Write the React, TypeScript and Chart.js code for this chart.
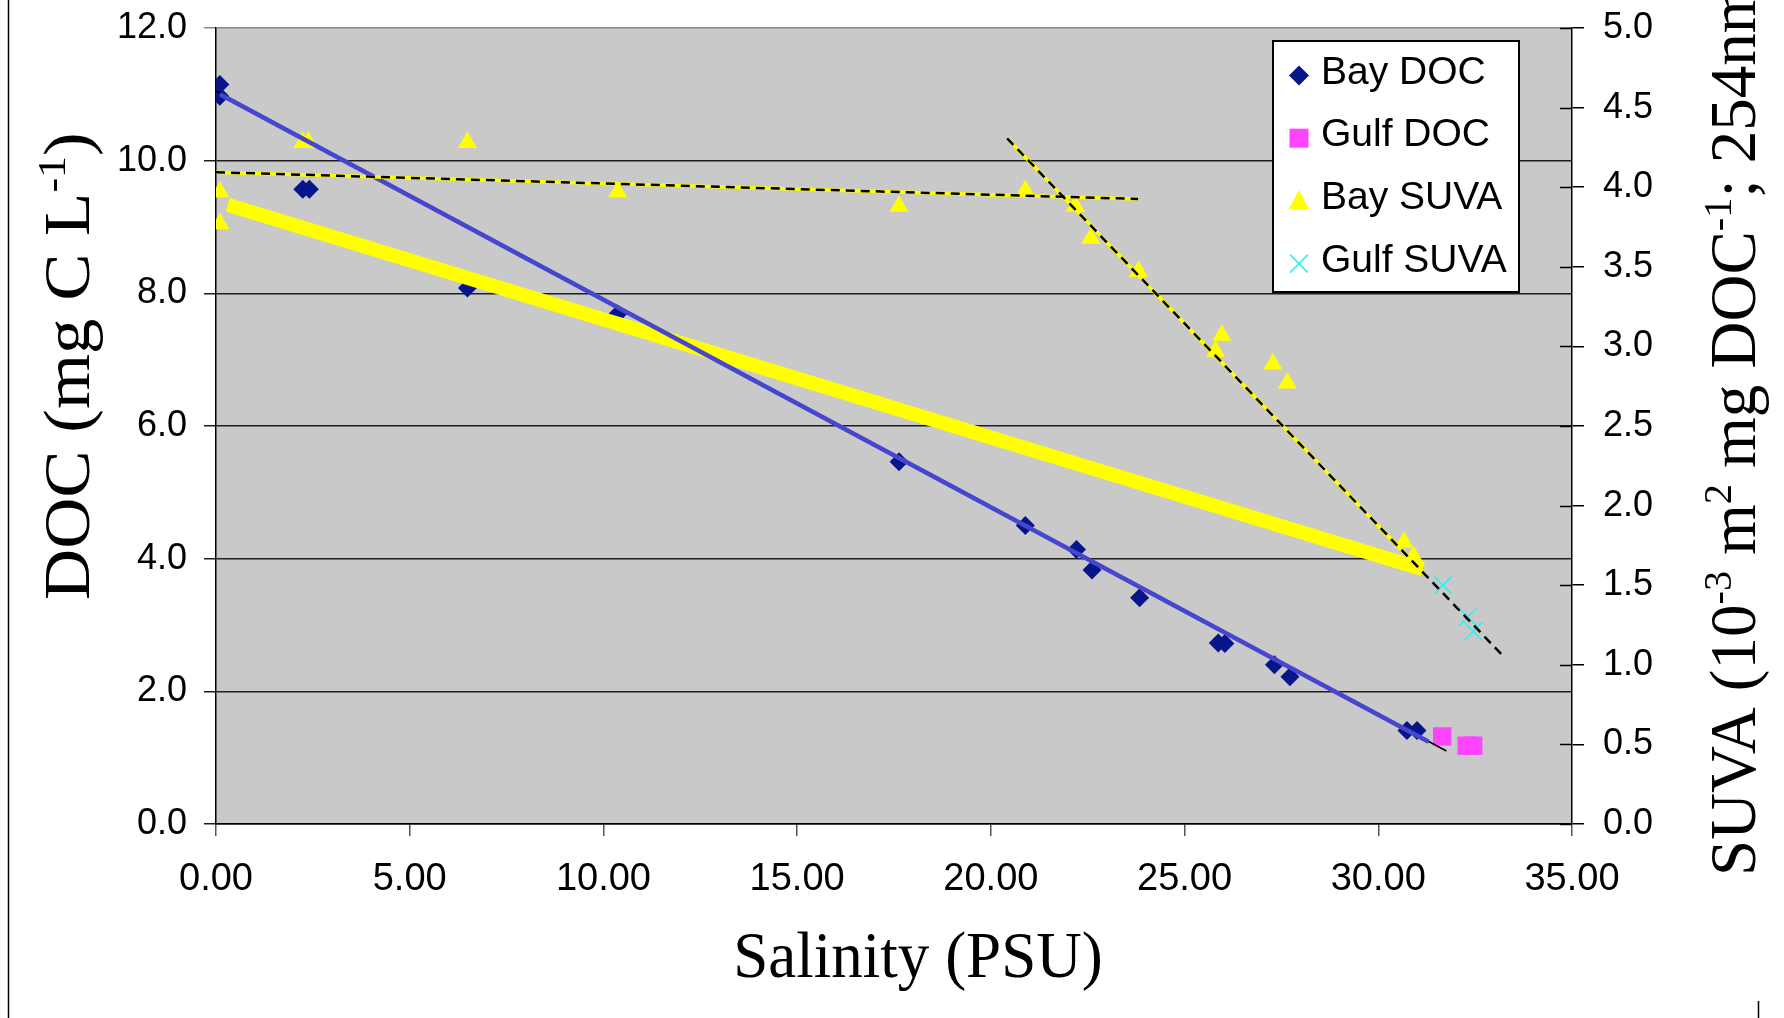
import React, { useEffect, useRef } from 'react';
import { Chart, registerables } from 'chart.js';

Chart.register(...registerables);

// ---- data -------------------------------------------------------------
const bayDocSalinity = [0.1, 0.1, 2.24, 2.41, 6.49, 10.37, 17.63, 20.89, 22.21, 22.61, 23.84, 25.87, 26.04, 27.32, 27.72, 30.74, 31.0];
const bayDocValues = [11.15, 10.97, 9.57, 9.57, 8.08, 7.69, 5.46, 4.5, 4.14, 3.83, 3.41, 2.73, 2.72, 2.4, 2.22, 1.41, 1.41];

const gulfDocSalinity = [31.65, 32.28, 32.45];
const gulfDocValues = [1.32, 1.18, 1.18];

const baySuvaSalinity = [0.1, 0.1, 2.24, 2.38, 6.49, 10.37, 17.63, 20.89, 22.18, 22.58, 23.81, 25.8, 25.96, 27.28, 27.65, 30.66, 30.91];
const baySuvaValues = [3.97, 3.77, 4.28, 4.28, 4.28, 3.97, 3.88, 3.98, 3.88, 3.68, 3.47, 2.97, 3.07, 2.89, 2.77, 1.77, 1.68];

const gulfSuvaSalinity = [31.67, 32.31, 32.45];
const gulfSuvaValues = [1.5, 1.3, 1.21];

// fitted lines (end points)
const docFitX = [0.1, 31.3];
const docFitY = [11.0, 1.24];
const docFitAltX = [0, 31.76];
const docFitAltY = [11.05, 1.1];
const suvaFitAllX = [0.3, 31.15];
const suvaFitAllY = [3.89, 1.6];
const suvaFitLowX = [0, 23.8];
const suvaFitLowY = [4.094, 3.926];
const suvaFitHighX = [20.42, 31.2];
const suvaFitHighY = [4.307, 1.569];
const suvaFitExtX = [20.42, 33.2];
const suvaFitExtY = [4.307, 1.061];

// axes
const salinityRange = [0, 35, 5];
const docRange = [0, 12, 2];
const suvaRange = [0, 5, 0.5];

const SANS = '"Liberation Sans", Arial, sans-serif';
const SERIF = '"Liberation Serif", "Times New Roman", serif';

type Seg = { text: string; sup?: boolean };

const xTitle: Seg[] = [{ text: 'Salinity (PSU)' }];
const leftTitle: Seg[] = [{ text: 'DOC (mg C L' }, { text: '-1', sup: true }, { text: ')' }];
const rightTitle: Seg[] = [
  { text: 'SUVA (10' },
  { text: '-3', sup: true },
  { text: ' m' },
  { text: '2', sup: true },
  { text: ' mg DOC' },
  { text: '-1', sup: true },
  { text: '; 254nm' },
  { text: '-1', sup: true },
  { text: ')' },
];

const pts = (xs: number[], ys: number[]) => xs.map((x, i) => ({ x, y: ys[i] }));

function richWidth(ctx: CanvasRenderingContext2D, segs: Seg[], size: number) {
  let w = 0;
  for (const s of segs) {
    ctx.font = `${s.sup ? size * 0.62 : size}px ${SERIF}`;
    w += ctx.measureText(s.text).width;
  }
  return w;
}

// draws along +x from the current origin, baseline at y = 0
function drawRich(ctx: CanvasRenderingContext2D, segs: Seg[], size: number, scaleX: number) {
  ctx.save();
  ctx.scale(scaleX, 1);
  ctx.fillStyle = '#000';
  ctx.textAlign = 'left';
  ctx.textBaseline = 'alphabetic';
  let x = 0;
  for (const s of segs) {
    const fs = s.sup ? size * 0.62 : size;
    ctx.font = `${fs}px ${SERIF}`;
    ctx.fillText(s.text, x, s.sup ? -size * 0.37 : 0);
    x += ctx.measureText(s.text).width;
  }
  ctx.restore();
}

const line = (label: string, xs: number[], ys: number[], axis: string, color: string, width: number, dash: number[], order: number) => ({
  label,
  data: pts(xs, ys),
  yAxisID: axis,
  showLine: true,
  borderColor: color,
  backgroundColor: color,
  borderWidth: width,
  borderDash: dash,
  borderCapStyle: 'butt' as const,
  pointRadius: 0,
  pointHoverRadius: 0,
  fill: false,
  order,
  inLegend: false,
});

const plotBackground = {
  id: 'plotBackground',
  beforeDraw(chart: any) {
    const { ctx, chartArea: a } = chart;
    ctx.save();
    ctx.fillStyle = '#C9C9C9';
    ctx.fillRect(a.left, a.top, a.right - a.left, a.bottom - a.top);
    ctx.restore();
  },
};

const decorations = {
  id: 'decorations',
  afterDraw(chart: any) {
    const { ctx, chartArea: a } = chart;
    ctx.save();

    // inner tick marks on the SUVA axis
    const y1 = chart.scales.y1;
    ctx.strokeStyle = '#000';
    ctx.lineWidth = 1.5;
    for (const t of y1.ticks) {
      const py = Math.round(y1.getPixelForValue(t.value)) + 0.5;
      ctx.beginPath();
      ctx.moveTo(a.right - 12, py);
      ctx.lineTo(a.right, py);
      ctx.stroke();
    }

    // frame edges
    ctx.lineWidth = 1.5;
    ctx.beginPath();
    ctx.moveTo(8.5, 0);
    ctx.lineTo(8.5, 1018);
    ctx.moveTo(1758.5, 1001);
    ctx.lineTo(1758.5, 1018);
    ctx.stroke();

    // axis titles
    const TS = 66;
    ctx.save();
    const wx = richWidth(ctx, xTitle, TS) * 0.955;
    ctx.translate(918 - wx / 2, 977);
    drawRich(ctx, xTitle, TS, 0.955);
    ctx.restore();

    ctx.save();
    ctx.translate(89, 600);
    ctx.rotate(-Math.PI / 2);
    drawRich(ctx, leftTitle, 65, 1.09);
    ctx.restore();

    ctx.save();
    ctx.translate(1755, 876);
    ctx.rotate(-Math.PI / 2);
    drawRich(ctx, rightTitle, 65, 1);
    ctx.restore();

    // legend
    const lx = 1272, ly = 40, lw = 248, lh = 253;
    ctx.fillStyle = '#fff';
    ctx.fillRect(lx, ly, lw, lh);
    ctx.strokeStyle = '#000';
    ctx.lineWidth = 2;
    ctx.strokeRect(lx + 1, ly + 1, lw - 2, lh - 2);

    const items = chart.data.datasets.filter((d: any) => d.inLegend);
    ctx.font = `39px ${SANS}`;
    ctx.textAlign = 'left';
    ctx.textBaseline = 'alphabetic';
    items.forEach((d: any, i: number) => {
      const base = 83.5 + i * 62.7;
      const mx = 1299;
      const my = base - 8;
      ctx.fillStyle = d.pointBackgroundColor;
      ctx.strokeStyle = d.pointBorderColor;
      ctx.beginPath();
      if (d.pointStyle === 'rectRot') {
        ctx.moveTo(mx, my - 10);
        ctx.lineTo(mx + 10, my);
        ctx.lineTo(mx, my + 10);
        ctx.lineTo(mx - 10, my);
        ctx.closePath();
        ctx.fill();
      } else if (d.pointStyle === 'rect') {
        ctx.rect(mx - 9.5, my - 9.5, 19, 19);
        ctx.fill();
      } else if (d.pointStyle === 'triangle') {
        ctx.moveTo(mx, my - 11);
        ctx.lineTo(mx + 10, my + 8);
        ctx.lineTo(mx - 10, my + 8);
        ctx.closePath();
        ctx.fill();
      } else {
        ctx.lineWidth = 1.5;
        ctx.moveTo(mx - 9, my - 9);
        ctx.lineTo(mx + 9, my + 9);
        ctx.moveTo(mx + 9, my - 9);
        ctx.lineTo(mx - 9, my + 9);
        ctx.stroke();
      }
      ctx.fillStyle = '#000';
      ctx.fillText(d.label, 1321, base);
    });

    ctx.restore();
  },
};

// keep the plot rectangle fixed: scales do not ask for extra label overflow room
const fixedSize = (prop: 'width' | 'height', size: number) => (s: any) => {
  s[prop] = size;
  s.paddingTop = 0;
  s.paddingBottom = 0;
  s.paddingLeft = 0;
  s.paddingRight = 0;
};

export default function App() {
  const ref = useRef<HTMLCanvasElement | null>(null);

  useEffect(() => {
    document.body.style.margin = '0';
    const canvas = ref.current;
    if (!canvas) return;

    const tickFont = (size: number) => ({ family: SANS, size });

    const chart = new Chart(canvas, {
      type: 'scatter',
      data: {
        datasets: [
          line('Low-salinity SUVA fit', suvaFitLowX, suvaFitLowY, 'y1', '#000000', 2.5, [9, 6], 0),
          line('High-salinity SUVA fit (extended)', suvaFitExtX, suvaFitExtY, 'y1', '#000000', 2.5, [9, 6], 0),
          line('Low-salinity SUVA fit base', suvaFitLowX, suvaFitLowY, 'y1', '#FFFF00', 3.5, [], 1),
          line('High-salinity SUVA fit base', suvaFitHighX, suvaFitHighY, 'y1', '#FFFF00', 3.5, [], 1),
          line('Bay DOC fit', docFitX, docFitY, 'y', '#4646CE', 4.5, [], 2),
          line('Bay DOC fit (alt)', docFitAltX, docFitAltY, 'y', '#000000', 1.5, [], 3),
          line('Bay SUVA fit', suvaFitAllX, suvaFitAllY, 'y1', '#FFFF00', 14, [], 4),
          {
            label: 'Bay DOC',
            data: pts(bayDocSalinity, bayDocValues),
            yAxisID: 'y',
            pointStyle: 'rectRot',
            pointRadius: 9.5,
            pointBackgroundColor: '#06168A',
            pointBorderColor: '#06168A',
            pointBorderWidth: 0,
            showLine: false,
            order: 10,
            inLegend: true,
          },
          {
            label: 'Gulf DOC',
            data: pts(gulfDocSalinity, gulfDocValues),
            yAxisID: 'y',
            pointStyle: 'rect',
            pointRadius: 13,
            pointBackgroundColor: '#FF44FF',
            pointBorderColor: '#FF44FF',
            pointBorderWidth: 0,
            showLine: false,
            order: 11,
            inLegend: true,
          },
          {
            label: 'Bay SUVA',
            data: pts(baySuvaSalinity, baySuvaValues),
            yAxisID: 'y1',
            pointStyle: 'triangle',
            pointRadius: 11,
            pointBackgroundColor: '#FFFF00',
            pointBorderColor: '#FFFF00',
            pointBorderWidth: 0,
            showLine: false,
            order: 12,
            inLegend: true,
          },
          {
            label: 'Gulf SUVA',
            data: pts(gulfSuvaSalinity, gulfSuvaValues),
            yAxisID: 'y1',
            pointStyle: 'crossRot',
            pointRadius: 12.5,
            pointBackgroundColor: '#2EF0F0',
            pointBorderColor: '#2EF0F0',
            pointBorderWidth: 1.5,
            showLine: false,
            order: 13,
            inLegend: true,
          },
        ] as any,
      },
      options: {
        responsive: false,
        animation: false,
        devicePixelRatio: 1,
        events: [],
        layout: { padding: { top: 28, left: 0, right: 0, bottom: 0 } },
        plugins: {
          legend: { display: false },
          tooltip: { enabled: false },
          title: { display: false },
        },
        scales: {
          x: {
            type: 'linear',
            position: 'bottom',
            min: salinityRange[0],
            max: salinityRange[1],
            ticks: {
              stepSize: salinityRange[2],
              autoSkip: false,
              maxRotation: 0,
              padding: 21,
              color: '#000',
              font: tickFont(38),
              callback: (v: any) => Number(v).toFixed(2),
            },
            grid: { drawOnChartArea: false, drawTicks: true, tickLength: 12, color: '#555', lineWidth: 1.5 },
            border: { display: true, color: '#000', width: 1.5 },
            afterFit: fixedSize('height', 194),
          },
          y: {
            type: 'linear',
            position: 'left',
            min: docRange[0],
            max: docRange[1],
            ticks: {
              stepSize: docRange[2],
              padding: 17,
              color: '#000',
              font: tickFont(36),
              callback: (v: any) => Number(v).toFixed(1),
            },
            grid: {
              drawOnChartArea: true,
              drawTicks: true,
              tickLength: 12,
              lineWidth: 1.5,
              color: (c: any) => (c.tick && c.tick.value === docRange[1] ? '#8a8a8a' : '#1e1e1e'),
            },
            border: { display: true, color: '#000', width: 1.5 },
            afterFit: fixedSize('width', 216),
          },
          y1: {
            type: 'linear',
            position: 'right',
            min: suvaRange[0],
            max: suvaRange[1],
            ticks: {
              stepSize: suvaRange[2],
              padding: 19,
              color: '#000',
              font: tickFont(36),
              callback: (v: any) => Number(v).toFixed(1),
            },
            grid: { drawOnChartArea: false, drawTicks: true, tickLength: 12, color: '#000', lineWidth: 1.5 },
            border: { display: true, color: '#000', width: 1.5 },
            afterFit: fixedSize('width', 212),
          },
        },
      } as any,
      plugins: [plotBackground, decorations],
    });

    return () => chart.destroy();
  }, []);

  return (
    <div style={{ position: 'absolute', left: 0, top: 0, width: 1784, height: 1018, background: '#fff' }}>
      <canvas ref={ref} width={1784} height={1018} style={{ display: 'block', width: 1784, height: 1018 }} />
    </div>
  );
}
